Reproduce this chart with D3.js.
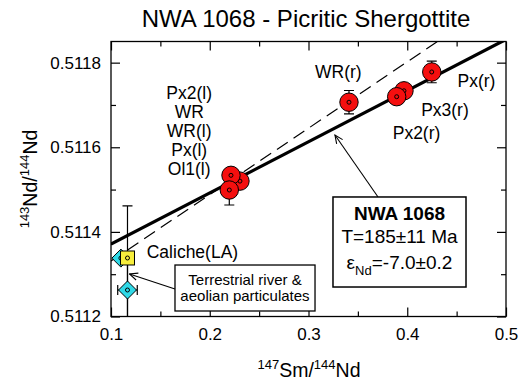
<!DOCTYPE html>
<html>
<head>
<meta charset="utf-8">
<script src="https://cdn.jsdelivr.net/npm/d3@7"></script>
<style>
  body { margin: 0; background: #fff; }
  svg { display: block; font-family: "Liberation Sans", Arial, sans-serif; }
</style>
</head>
<body>
<div id="chart"></div>
<script>
// NWA 1068 Sm-Nd isochron

// Red circles: mineral / whole rock fractions
const mineralSm = [0.4248, 0.3967, 0.3893, 0.3410, 0.2306, 0.2215, 0.2198];
const mineralNd = [0.511778, 0.5117335, 0.5117195, 0.5117065, 0.51152, 0.5115337, 0.511499];
const mineralNdErr = [0.0000255, 0.000015, 0.000015, 0.0000277, 0.000015, 0.000015, 0.0000355];

// Terrestrial river & aeolian particulates (cyan diamonds)
const terrSm = [0.110, 0.1167];
const terrNd = [0.511338, 0.5112626];
const terrSmErr = [0, 0.0099];
const terrNdErr = [0, 0.00008];

// Caliche (yellow square)
const calSm = [0.1167];
const calNd = [0.5113383];
const calNdErrHi = [0.000123];
const calNdErrLo = [0.00016];

// Isochron (solid) and reference line (dashed): intercept, slope
const isochron = [0.51125, 0.00121];
const refLine = [0.511174, 0.00157];

const xTicks = [0.1, 0.2, 0.3, 0.4, 0.5];
const xMinor = [0.15, 0.25, 0.35, 0.45];
const yTicks = [0.5112, 0.5114, 0.5116, 0.5118];
const yMinor = [0.5113, 0.5115, 0.5117];

const leftLabels = ["Px2(l)", "WR", "WR(l)", "Px(l)", "Ol1(l)"];

const width = 523, height = 381;
const plot = { left: 111, right: 506, top: 41.5, bottom: 316.5 };

const x = d3.scaleLinear().domain([0.1, 0.5]).range([plot.left, plot.right]);
const y = d3.scaleLinear().domain([0.5112, 0.51185]).range([plot.bottom, plot.top]);

const svg = d3.select('#chart').append('svg')
    .attr('width', width)
    .attr('height', height);

svg.append('defs').append('clipPath').attr('id', 'clip')
    .append('rect')
    .attr('x', plot.left).attr('y', plot.top)
    .attr('width', plot.right - plot.left).attr('height', plot.bottom - plot.top);

svg.select('defs').append('marker')
    .attr('id', 'arrow')
    .attr('viewBox', '-1 -5 11 10')
    .attr('refX', 9)
    .attr('refY', 0)
    .attr('markerWidth', 10)
    .attr('markerHeight', 10)
    .attr('markerUnits', 'userSpaceOnUse')
    .attr('orient', 'auto')
    .append('path')
    .attr('d', 'M0,-4L9,0L0,4')
    .attr('fill', 'none')
    .attr('stroke', '#000')
    .attr('stroke-width', 1.2);

// Title
svg.append('text')
    .attr('x', 306).attr('y', 27)
    .attr('text-anchor', 'middle')
    .attr('font-size', 24)
    .text('NWA 1068 - Picritic Shergottite');

// Axes (ticks inside)
function styleAxis(g) {
    g.select('.domain').remove();
    g.selectAll('line').attr('stroke', '#000').attr('stroke-width', 1.2);
    g.selectAll('text').attr('font-size', 17).attr('fill', '#000')
        .attr('font-family', '"Liberation Sans", Arial, sans-serif');
}
svg.append('g').attr('transform', `translate(0,${plot.bottom})`)
    .call(d3.axisBottom(x).tickValues(xTicks).tickFormat(d3.format('.1f')).tickSize(-9).tickPadding(11))
    .call(styleAxis);
svg.append('g').attr('transform', `translate(0,${plot.bottom})`)
    .call(d3.axisBottom(x).tickValues(xMinor).tickFormat('').tickSize(-5))
    .call(styleAxis);
svg.append('g').attr('transform', `translate(0,${plot.top})`)
    .call(d3.axisTop(x).tickValues(xTicks).tickFormat('').tickSize(-9))
    .call(styleAxis);
svg.append('g').attr('transform', `translate(0,${plot.top})`)
    .call(d3.axisTop(x).tickValues(xMinor).tickFormat('').tickSize(-5))
    .call(styleAxis);
svg.append('g').attr('transform', `translate(${plot.left},0)`)
    .call(d3.axisLeft(y).tickValues(yTicks).tickFormat(d3.format('.4f')).tickSize(-9).tickPadding(10))
    .call(styleAxis);
svg.append('g').attr('transform', `translate(${plot.left},0)`)
    .call(d3.axisLeft(y).tickValues(yMinor).tickFormat('').tickSize(-5))
    .call(styleAxis);
svg.append('g').attr('transform', `translate(${plot.right},0)`)
    .call(d3.axisRight(y).tickValues(yTicks).tickFormat('').tickSize(-9))
    .call(styleAxis);
svg.append('g').attr('transform', `translate(${plot.right},0)`)
    .call(d3.axisRight(y).tickValues(yMinor).tickFormat('').tickSize(-5))
    .call(styleAxis);

// Axis titles
const xTitle = svg.append('text')
    .attr('x', 309).attr('y', 377)
    .attr('text-anchor', 'middle')
    .attr('font-size', 19.5);
xTitle.append('tspan').attr('font-size', 13).attr('dy', -8).text('147');
xTitle.append('tspan').attr('dy', 8).text('Sm/');
xTitle.append('tspan').attr('font-size', 13).attr('dy', -8).text('144');
xTitle.append('tspan').attr('dy', 8).text('Nd');

const yTitle = svg.append('text')
    .attr('transform', `translate(37,${(plot.top + plot.bottom) / 2}) rotate(-90)`)
    .attr('text-anchor', 'middle')
    .attr('font-size', 19.5);
yTitle.append('tspan').attr('font-size', 13).attr('dy', -8).text('143');
yTitle.append('tspan').attr('dy', 8).text('Nd/');
yTitle.append('tspan').attr('font-size', 13).attr('dy', -8).text('144');
yTitle.append('tspan').attr('dy', 8).text('Nd');

// Lines
const inner = svg.append('g').attr('clip-path', 'url(#clip)');
inner.append('line')
    .attr('x1', x(0.1)).attr('y1', y(refLine[0] + refLine[1] * 0.1))
    .attr('x2', x(0.5)).attr('y2', y(refLine[0] + refLine[1] * 0.5))
    .attr('stroke', '#000').attr('stroke-width', 1.2)
    .attr('stroke-dasharray', '13,7');
inner.append('line')
    .attr('x1', x(0.1)).attr('y1', y(isochron[0] + isochron[1] * 0.1))
    .attr('x2', x(0.5)).attr('y2', y(isochron[0] + isochron[1] * 0.5))
    .attr('stroke', '#000').attr('stroke-width', 3.2);

// Error bars
function vErr(g, sx, sy, lo, hi, cap) {
    g.append('line').attr('x1', x(sx)).attr('x2', x(sx))
        .attr('y1', y(sy - lo)).attr('y2', y(sy + hi))
        .attr('stroke', '#000').attr('stroke-width', 1.2);
    [sy - lo, sy + hi].forEach(v => {
        g.append('line').attr('x1', x(sx) - cap).attr('x2', x(sx) + cap)
            .attr('y1', y(v)).attr('y2', y(v))
            .attr('stroke', '#000').attr('stroke-width', 1.2);
    });
}
function hErr(g, sx, sy, e, cap) {
    g.append('line').attr('x1', x(sx - e)).attr('x2', x(sx + e))
        .attr('y1', y(sy)).attr('y2', y(sy))
        .attr('stroke', '#000').attr('stroke-width', 1.2);
    [sx - e, sx + e].forEach(v => {
        g.append('line').attr('x1', x(v)).attr('x2', x(v))
            .attr('y1', y(sy) - cap).attr('y2', y(sy) + cap)
            .attr('stroke', '#000').attr('stroke-width', 1.2);
    });
}

calSm.forEach((s, i) => vErr(inner, s, calNd[i], calNdErrLo[i], calNdErrHi[i], 5));
terrSm.forEach((s, i) => {
    if (terrNdErr[i] > 0) vErr(inner, s, terrNd[i], terrNdErr[i], terrNdErr[i], 5);
    if (terrSmErr[i] > 0) hErr(inner, s, terrNd[i], terrSmErr[i], 5);
});
mineralSm.forEach((s, i) => vErr(inner, s, mineralNd[i], mineralNdErr[i], mineralNdErr[i], 5));

// Markers
function centerDot(g, px, py) {
    g.append('circle').attr('cx', px).attr('cy', py).attr('r', 2)
        .attr('fill', 'none').attr('stroke', '#000').attr('stroke-width', 1);
}
terrSm.forEach((s, i) => {
    const px = x(s), py = y(terrNd[i]), r = 9;
    inner.append('path')
        .attr('d', `M${px - r},${py}L${px},${py - r}L${px + r},${py}L${px},${py + r}Z`)
        .attr('fill', '#2fd8e6').attr('stroke', '#000').attr('stroke-width', 1);
    centerDot(inner, px, py);
});
calSm.forEach((s, i) => {
    const px = x(s), py = y(calNd[i]), h = 7;
    inner.append('rect')
        .attr('x', px - h).attr('y', py - h).attr('width', 2 * h).attr('height', 2 * h)
        .attr('fill', '#f7ee3c').attr('stroke', '#000').attr('stroke-width', 1);
    centerDot(inner, px, py);
});
mineralSm.forEach((s, i) => {
    inner.append('circle')
        .attr('cx', x(s)).attr('cy', y(mineralNd[i])).attr('r', 9.2)
        .attr('fill', '#f50f0f').attr('stroke', '#000').attr('stroke-width', 1);
    centerDot(inner, x(s), y(mineralNd[i]));
});

// Frame
svg.append('rect')
    .attr('x', plot.left).attr('y', plot.top)
    .attr('width', plot.right - plot.left).attr('height', plot.bottom - plot.top)
    .attr('fill', 'none').attr('stroke', '#000').attr('stroke-width', 1.3);

// Point labels
const labelFont = 17.5;
function label(t, sx, sy, anchor) {
    svg.append('text').attr('x', x(sx)).attr('y', y(sy))
        .attr('text-anchor', anchor).attr('font-size', labelFont).text(t);
}
label('WR(r)', 0.3302, 0.511764, 'middle');
label('Px(r)', 0.4701, 0.5117432, 'middle');
label('Px3(r)', 0.4382, 0.511674, 'middle');
label('Px2(r)', 0.4094, 0.5116195, 'middle');
label('Caliche(LA)', 0.1362, 0.5113383, 'start');
leftLabels.forEach((t, i) => {
    svg.append('text').attr('x', x(0.1792)).attr('y', y(0.511714) + i * 19)
        .attr('text-anchor', 'middle').attr('font-size', labelFont).text(t);
});

// Annotation arrows
svg.append('line')
    .attr('x1', x(0.3704)).attr('y1', y(0.5114825))
    .attr('x2', x(0.3268)).attr('y2', y(0.511629))
    .attr('stroke', '#000').attr('stroke-width', 1.1)
    .attr('marker-end', 'url(#arrow)');
svg.append('line')
    .attr('x1', x(0.1648)).attr('y1', y(0.511265))
    .attr('x2', x(0.1187)).attr('y2', y(0.5113005))
    .attr('stroke', '#000').attr('stroke-width', 1.1)
    .attr('marker-end', 'url(#arrow)');

// NWA 1068 result box
const bx0 = x(0.3248), bx1 = x(0.4595), by0 = y(0.5114825), by1 = y(0.5112697);
svg.append('rect')
    .attr('x', bx0).attr('y', by0).attr('width', bx1 - bx0).attr('height', by1 - by0)
    .attr('fill', '#fff').attr('stroke', '#000').attr('stroke-width', 1.5);
const bcx = (bx0 + bx1) / 2;
svg.append('text').attr('x', bcx).attr('y', by0 + 23.5)
    .attr('text-anchor', 'middle').attr('font-size', 19).attr('font-weight', 'bold')
    .text('NWA 1068');
svg.append('text').attr('x', bcx).attr('y', by0 + 46)
    .attr('text-anchor', 'middle').attr('font-size', 19)
    .text('T=185\u00b111 Ma');
const eps = svg.append('text').attr('x', bcx).attr('y', by0 + 72)
    .attr('text-anchor', 'middle').attr('font-size', 19);
eps.append('tspan').text('\u03b5');
eps.append('tspan').attr('font-size', 13).attr('dy', 6).text('Nd');
eps.append('tspan').attr('dy', -6).text('=-7.0\u00b10.2');

// Terrestrial box
const tx0 = x(0.1648), tx1 = x(0.3066), ty0 = y(0.5113217), ty1 = y(0.511213);
svg.append('rect')
    .attr('x', tx0).attr('y', ty0).attr('width', tx1 - tx0).attr('height', ty1 - ty0)
    .attr('fill', '#fff').attr('stroke', '#000').attr('stroke-width', 1.3);
svg.append('text').attr('x', (tx0 + tx1) / 2).attr('y', ty0 + 20)
    .attr('text-anchor', 'middle').attr('font-size', 15).text('Terrestrial river &');
svg.append('text').attr('x', (tx0 + tx1) / 2).attr('y', ty0 + 36)
    .attr('text-anchor', 'middle').attr('font-size', 15).text('aeolian particulates');
</script>
</body>
</html>
